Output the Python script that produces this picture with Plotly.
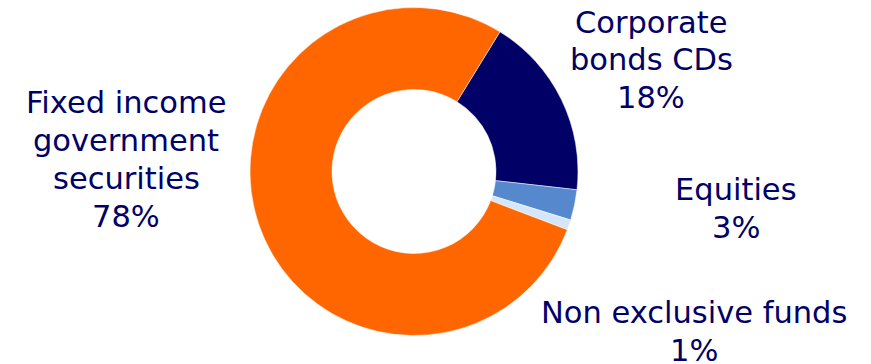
import plotly.graph_objects as go

labels = ["Corporate bonds CDs", "Equities", "Non exclusive funds", "Fixed income government securities"]
label_lines = [["Corporate", "bonds CDs"], ["Equities"], ["Non exclusive funds"],
               ["Fixed income", "government", "securities"]]
values = [18, 3, 1, 78]
colors = ["#000066", "#5588CC", "#D5E6FA", "#FF6600"]

W, H = 871, 364
fig = go.Figure()
fig.add_trace(go.Pie(
    labels=labels, values=values, sort=False, direction="clockwise",
    rotation=31.6, hole=0.5,
    marker=dict(colors=colors, line=dict(color="white", width=0.5)),
    textinfo="none", hoverinfo="label+percent", showlegend=False,
    domain=dict(x=[250 / W, 578 / W], y=[1 - 335.5 / H, 1 - 7.5 / H]),
))

# label placement: center x and first-line center y (pixels), line spacing
label_pos = [(651, 22), (736, 189), (694, 312), (126, 102)]
line_gap = 38
total = sum(values)
for lines, v, (px, py) in zip(label_lines, values, label_pos):
    all_lines = lines + [f"{round(100 * v / total)}%"]
    for i, t in enumerate(all_lines):
        fig.add_annotation(
            x=px / W, y=1 - (py + i * line_gap) / H, xref="paper", yref="paper",
            text=t, showarrow=False, xanchor="center", yanchor="middle",
            font=dict(family="Verdana, DejaVu Sans", size=30.5, color="#000066"),
        )

fig.update_layout(
    width=W, height=H, margin=dict(l=0, r=0, t=0, b=0),
    paper_bgcolor="white", plot_bgcolor="white",
)
fig.write_html("out.html")
